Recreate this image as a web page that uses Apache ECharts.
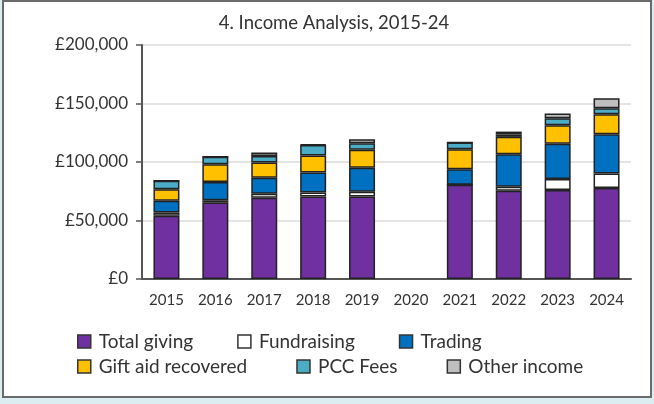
<!DOCTYPE html>
<html>
<head>
<meta charset="utf-8">
<script src="https://cdn.jsdelivr.net/npm/echarts@6/dist/echarts.min.js"></script>
<style>
  html, body { margin: 0; padding: 0; width: 654px; height: 404px; background: #dcedf2; overflow: hidden; }
  #frame { position: absolute; left: 2px; top: 0px; width: 646px; height: 394px; border: 2px solid #6a6a6a; background: #ffffff; }
  #chart { position: absolute; left: 0; top: 0; width: 654px; height: 404px; }
</style>
</head>
<body>
<div id="frame"></div>
<div id="chart"></div>
<script>
const years = ['2015','2016','2017','2018','2019','2020','2021','2022','2023','2024'];
const totalGiving   = [54.0, 65.3, 69.5, 70.5, 70.5, null, 80.5, 75.5, 76.0, 77.7];
const fundraising   = [2.8, 2.0, 3.3, 3.5, 4.0, null, 0, 3.3, 9.4, 12.4];
const trading       = [10.0, 15.7, 13.7, 17.0, 20.5, null, 13.4, 27.9, 30.3, 33.7];
const giftAid       = [10.0, 15.0, 13.0, 14.5, 15.5, null, 17.1, 14.8, 15.7, 17.0];
const pccFees       = [7.1, 6.4, 5.7, 9.0, 5.5, null, 5.6, 2.0, 6.0, 5.2];
const otherIncome   = [0, 0, 2.9, 0.5, 3.5, null, 0, 2.5, 4.0, 8.5];
const yTicks = [0, 50000, 100000, 150000, 200000];

const seriesDefs = [
  ['Total giving', totalGiving, '#7030a0'],
  ['Fundraising', fundraising, '#ffffff'],
  ['Trading', trading, '#0070c0'],
  ['Gift aid recovered', giftAid, '#ffc000'],
  ['PCC Fees', pccFees, '#4bacc6'],
  ['Other income', otherIncome, '#bfbfbf']
];

const FONT = 'Lato';
const chart = echarts.init(document.getElementById('chart'), null, {renderer: 'canvas'});
const legendCommon = {
  left: 72,
  orient: 'horizontal',
  itemWidth: 13,
  itemHeight: 13,
  itemGap: 44,
  icon: 'rect',
  itemStyle: { borderColor: '#333', borderWidth: 1.5 },
  textStyle: { fontFamily: FONT, fontSize: 19, color: '#333', padding: [0, 0, 0, 3] },
  selectedMode: false
};
chart.setOption({
  animation: false,
  title: {
    text: '4. Income Analysis, 2015-24',
    left: 329, top: 9, textAlign: 'center',
    textStyle: { fontFamily: FONT, fontSize: 18.5, fontWeight: 'normal', color: '#333' }
  },
  legend: [
    Object.assign({}, legendCommon, { top: 327, data: ['Total giving', 'Fundraising', 'Trading'] }),
    Object.assign({}, legendCommon, { top: 352, itemGap: 49, data: ['Gift aid recovered', 'PCC Fees', 'Other income'] })
  ],
  grid: { left: 142, right: 23, top: 45, bottom: 125, containLabel: false },
  xAxis: {
    type: 'category',
    data: years,
    axisLine: { lineStyle: { color: '#555', width: 2 } },
    axisTick: { alignWithLabel: true, length: 7, lineStyle: { color: '#555', width: 1.5 } },
    axisLabel: { fontFamily: FONT, fontSize: 15, color: '#333', margin: 14 }
  },
  yAxis: {
    type: 'value',
    min: yTicks[0], max: yTicks[yTicks.length - 1], interval: yTicks[1] - yTicks[0],
    axisLine: { show: true, lineStyle: { color: '#555', width: 2 } },
    axisTick: { show: true, length: 6, lineStyle: { color: '#555', width: 1.5 } },
    splitLine: { lineStyle: { color: '#e4e4e4', width: 2 } },
    axisLabel: {
      fontFamily: FONT, fontSize: 17, color: '#333', margin: 14, padding: [5, 0, 0, 0],
      formatter: v => '£' + v.toLocaleString('en-GB')
    }
  },
  series: seriesDefs.map(([name, vals, color]) => ({
    name,
    type: 'bar',
    stack: 'income',
    barWidth: 26,
    data: vals.map(v => v === null ? '-' : v * 1000),
    itemStyle: { color, borderColor: '#222', borderWidth: 1.5 }
  }))
});
</script>
</body>
</html>
